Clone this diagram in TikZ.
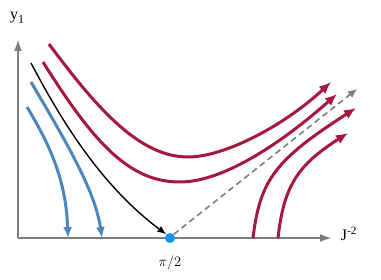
\documentclass[tikz,border=0pt]{standalone}
\usepackage{fontspec}
\setmainfont{Liberation Serif}
\usetikzlibrary{arrows.meta}
\definecolor{crim}{RGB}{166,22,62}
\definecolor{steel}{RGB}{74,135,188}
\definecolor{axg}{RGB}{125,125,125}
\definecolor{dotb}{RGB}{10,150,250}
\tikzset{
  axis/.style={draw=axg, line width=2.2pt, -{Latex[length=12pt,width=8pt]}},
  redc/.style={draw=crim, line width=3pt, -{Latex[length=12pt,width=10pt]}},
  bluec/.style={draw=steel, line width=3pt, -{Latex[length=11pt,width=9pt]}},
  blackc/.style={draw=black, line width=1.4pt, -{Latex[length=9pt,width=7pt]}},
  dashc/.style={draw=axg, line width=1.6pt, dash pattern=on 6pt off 4pt, -{Latex[length=9pt,width=8pt]}},
  lbl/.style={font=\fontsize{16}{18}\selectfont, inner sep=0pt},
}
\begin{document}
\begin{tikzpicture}[x=1pt,y=-1pt]
\useasboundingbox (0,0) rectangle (381,280);
% axes
\coordinate (O) at (18,238);
\coordinate (ytip) at (18,39);
\coordinate (xtip) at (332,238);
\draw[axis] (O) -- (ytip);
\draw[axis] (O) -- (xtip);
\node[lbl] (ylab) at (17,18) {y\raisebox{-3.5pt}{\fontsize{12}{12}\selectfont 1}};
\node[lbl] (xlab) at (349,234) {J\textsuperscript{-2}};
\node[lbl, font=\fontsize{15}{17}\selectfont] (pilab) at (170,263) {$\pi/2$};
% dot
\node[circle, fill=dotb, inner sep=0pt, minimum size=10pt] (dot) at (170,238) {};
% dashed line
\coordinate (dend) at (357,89);
\draw[dashc] (dot.north east) -- (dend);
% black curve
\draw[blackc] (31,63) .. controls (60,118) and (100,185) .. (dot.north west);
% blue curves
\draw[bluec] (27,107) .. controls (50,145) and (66,180) .. (68,238);
\draw[bluec] (31,82) .. controls (65,140) and (95,190) .. (102,238);
% red curves top
\draw[redc] (49,44) .. controls (98,110) and (140,157) .. (188,157)
            .. controls (225,157) and (285,125) .. (331,82);
\draw[redc] (43,62) .. controls (95,145) and (130,182) .. (180,182)
            .. controls (225,182) and (285,140) .. (337,94);
% red curves bottom right
\draw[redc] (253,238) .. controls (260,180) and (275,160) .. (356,108);
\draw[redc] (278,238) .. controls (284,185) and (298,165) .. (348,133);
\end{tikzpicture}
\end{document}
